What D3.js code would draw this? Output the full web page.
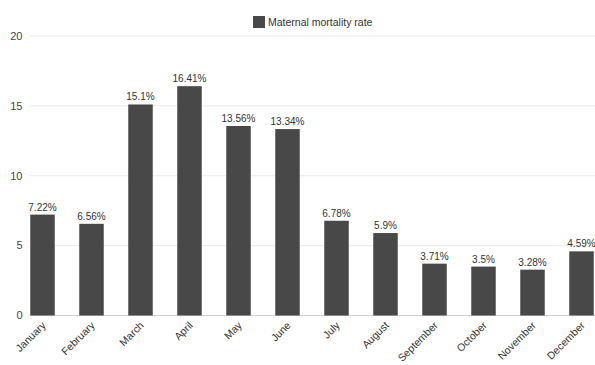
<!DOCTYPE html>
<html><head><meta charset="utf-8">
<script src="https://cdn.jsdelivr.net/npm/d3@7"></script>
<style>html,body{margin:0;padding:0;background:#fff;overflow:hidden}svg{display:block;font-family:"Liberation Sans",Arial,sans-serif}</style>
</head><body><svg id="c" width="595" height="365"></svg>
<script>
const months = ["January","February","March","April","May","June","July","August","September","October","November","December"];
const rates = [7.22,6.56,15.1,16.41,13.56,13.34,6.78,5.9,3.71,3.5,3.28,4.59];
const rateLabels = ["7.22%","6.56%","15.1%","16.41%","13.56%","13.34%","6.78%","5.9%","3.71%","3.5%","3.28%","4.59%"];
const yTicks = [0,5,10,15,20];
const seriesName = "Maternal mortality rate";

const svg = d3.select("#c");
const x = d3.scaleBand().domain(months).range([18, 606]).paddingInner(0.5).paddingOuter(0.25);
const y = d3.scaleLinear().domain([0,20]).range([315.5, 36]);

// gridlines
svg.append("g").selectAll("line").data(yTicks).join("line")
  .attr("x1", 30).attr("x2", 595)
  .attr("y1", d=>y(d)).attr("y2", d=>y(d))
  .attr("stroke", d=> d===0 ? "#cfcfcf" : "#ebebeb").attr("stroke-width", 1);

// y labels
svg.append("g").selectAll("text").data(yTicks).join("text")
  .attr("x", 22.5).attr("y", d=>y(d)).attr("dy","0.35em")
  .attr("text-anchor","end").attr("font-size", 11).attr("fill","#444")
  .text(d=>d);

// bars
svg.append("g").selectAll("rect").data(months).join("rect")
  .attr("x", d=>x(d)).attr("width", x.bandwidth())
  .attr("y", (d,i)=>y(rates[i])).attr("height", (d,i)=>y(0)-y(rates[i]))
  .attr("fill","#484848");

// value labels
svg.append("g").selectAll("text").data(months).join("text")
  .attr("x", d=>x(d)+x.bandwidth()/2).attr("y", (d,i)=>y(rates[i])-4)
  .attr("text-anchor","middle").attr("font-size", 10).attr("fill","#333")
  .text((d,i)=>rateLabels[i]);

// x labels
svg.append("g").selectAll("text").data(months).join("text")
  .attr("transform", d=>`translate(${x(d)+x.bandwidth()/2+4},${326}) rotate(-45)`)
  .attr("text-anchor","end").attr("font-size", 10.5).attr("fill","#333")
  .text(d=>d);

// legend
const lg = svg.append("g");
lg.append("rect").attr("x",253).attr("y",16).attr("width",12).attr("height",12).attr("fill","#484848");
lg.append("text").attr("x",268).attr("y",22).attr("dy","0.35em").attr("font-size",10.5).attr("fill","#333").text(seriesName);
</script></body></html>
